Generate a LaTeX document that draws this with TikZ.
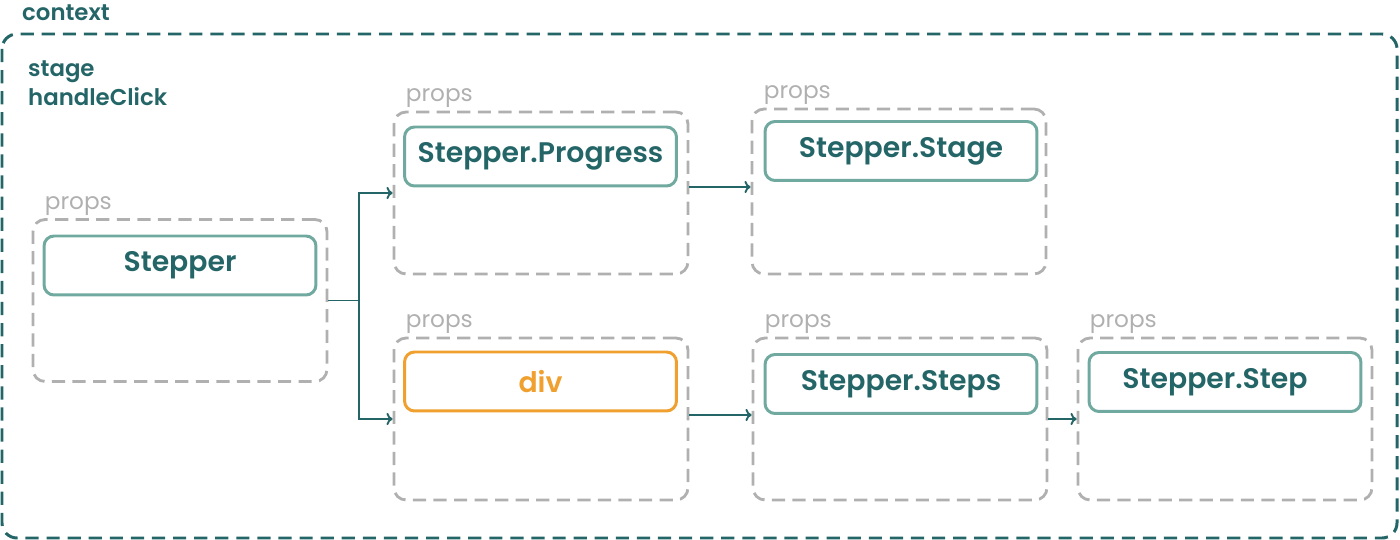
\documentclass[tikz,border=0pt]{standalone}
\usepackage{fontspec}
\setmainfont{Poppins}
\newfontfamily\medfont{Poppins SemiBold}
\usepackage{xcolor}
\usetikzlibrary{calc,arrows.meta}

\definecolor{ctxteal}{HTML}{246567}
\definecolor{boxteal}{HTML}{70A99F}
\definecolor{divorange}{HTML}{EFA02E}
\definecolor{propgray}{HTML}{B0B0B0}

\begin{document}
\begin{tikzpicture}[x=0.02cm, y=-0.02cm,
  container/.style={draw=propgray, line width=1.6pt, dash pattern=on 7.5pt off 4.2pt,
    rounded corners=0.24cm, minimum width=5.88cm, minimum height=3.24cm},
  comp/.style={draw=boxteal, line width=1.7pt, rounded corners=0.2cm,
    minimum width=5.44cm, minimum height=1.18cm, text=ctxteal,
    font=\medfont\fontsize{16.1}{20}\selectfont},
  proplabel/.style={anchor=base west, text=propgray, font=\fontsize{13.2}{15}\selectfont},
  flow/.style={draw=ctxteal, line width=1.1pt, -{To[length=3.5pt, width=7pt]}}]
  \useasboundingbox (0,0) rectangle (1400,540);

  % Context
  \draw[ctxteal, line width=1.7pt, dash pattern=on 7.5pt off 4.5pt, rounded corners=0.3cm]
    (2,34) rectangle (1397,538);
  \node[anchor=base west, text=ctxteal, font=\medfont\fontsize{13}{15}\selectfont] (ctx) at (16,21) {context};
  \node[anchor=base west, text=ctxteal, font=\medfont\fontsize{13}{15}\selectfont] (stage) at (22,77) {stage};
  \node[anchor=base west, text=ctxteal, font=\medfont\fontsize{13}{15}\selectfont] (click) at (22,106) {handleClick};

  % Containers
  \node[container] (stepperbox) at (180,300.5) {};
  \node[container] (progbox) at (541,193) {};
  \node[container, minimum height=3.3cm] (stagebox) at (899,191.5) {};
  \node[container] (divbox) at (541,419) {};
  \node[container] (stepsbox) at (900,419) {};
  \node[container] (stepbox) at (1225,419) {};

  % Props labels
  \foreach \b in {stepperbox, progbox, stagebox, divbox, stepsbox, stepbox}
    \node[proplabel] (\b-props) at ($(\b.north west)+(7,-9)$) {props};

  % Components
  \node[comp] (stepper) at (180,265.5) {Stepper};
  \node[comp] (progress) at (540.5,156.5) {Stepper.Progress};
  \node[comp] (stagecomp) at (901,151) {Stepper.Stage};
  \node[comp, draw=divorange, text=divorange] (div) at (540.5,381.5) {div};
  \node[comp] (steps) at (901,384) {Stepper.Steps};
  \node[comp] (step) at (1225,382) {Stepper.Step\kern0.4cm};

  % Edges
  \draw[flow] (stepperbox.east) -- ++(31,0) coordinate (fork) |- (progbox.west);
  \draw[flow] (fork) |- (divbox.west);
  \draw[flow] ($(progbox.east)+(0,-6)$) -- ($(stagebox.west)+(0,-4.5)$);
  \draw[flow] ($(divbox.east)+(0,-4)$) -- ($(stepsbox.west)+(0,-4)$);
  \draw[flow] (stepsbox.east) -- (stepbox.west);
\end{tikzpicture}
\end{document}
